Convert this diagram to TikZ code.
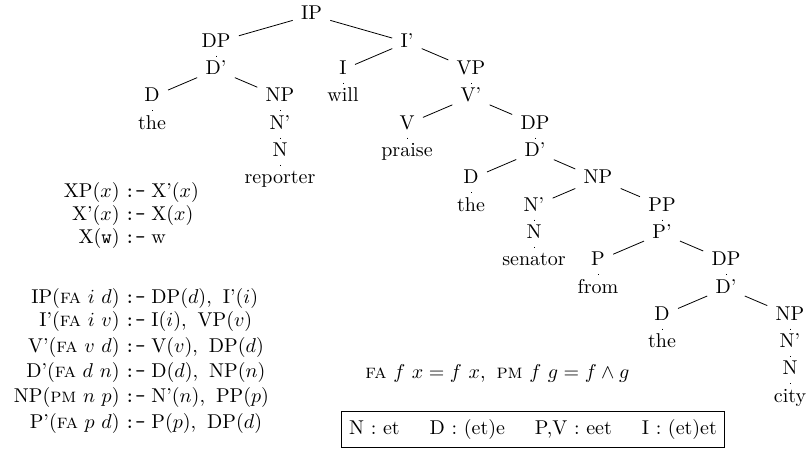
\documentclass[tikz,border=0pt]{standalone}
\begin{document}
\begin{tikzpicture}[x=0.5pt,y=-0.5pt,
  tn/.style={inner xsep=4pt, inner ysep=1.5pt, text height=7.5pt, text depth=2.5pt},
  rl/.style={inner sep=0pt, text height=7.5pt, text depth=2.5pt},
  br/.style={line width=0.4pt}]
\useasboundingbox (0,0) rectangle (807,449);
\newcommand{\csp}{,\hspace{5.5pt}}
% tree nodes
\node[tn] (ip) at (311.5,15) {IP};
\node[tn] (dp1) at (216,42.3) {DP};
\node[tn] (ib) at (407,42.3) {I'};
\node[tn] (db1) at (216,69.6) {D'};
\node[tn] (i) at (343,69.6) {I};
\node[tn] (vp) at (471,69.6) {VP};
\node[tn] (d1) at (152,96.9) {D};
\node[tn] (np1) at (280,96.9) {NP};
\node[tn] (will) at (343,96.9) {will};
\node[tn] (vb) at (471,96.9) {V'};
\node[tn] (the1) at (152,124.2) {the};
\node[tn] (nb1) at (280,124.2) {N'};
\node[tn] (v) at (407,124.2) {V};
\node[tn] (dp2) at (535,124.2) {DP};
\node[tn] (n1) at (280,151.5) {N};
\node[tn] (praise) at (407,151.5) {praise};
\node[tn] (db2) at (535,151.5) {D'};
\node[tn] (reporter) at (280,178.8) {reporter};
\node[tn] (d2) at (471,178.8) {D};
\node[tn] (np2) at (598,178.8) {NP};
\node[tn] (the2) at (471,206.1) {the};
\node[tn] (nb2) at (534,206.1) {N'};
\node[tn] (pp) at (662,206.1) {PP};
\node[tn] (n2) at (534,233.4) {N};
\node[tn] (pb) at (662,233.4) {P'};
\node[tn] (senator) at (534,260.7) {senator};
\node[tn] (p) at (598,260.7) {P};
\node[tn] (dp3) at (726,260.7) {DP};
\node[tn] (from) at (598,288) {from};
\node[tn] (db3) at (726,288) {D'};
\node[tn] (d3) at (662,315.3) {D};
\node[tn] (np3) at (790,315.3) {NP};
\node[tn] (the3) at (662,342.6) {the};
\node[tn] (nb3) at (790,342.6) {N'};
\node[tn] (n3) at (790,369.9) {N};
\node[tn] (city) at (790,397.2) {city};
% branches
\foreach \a/\b in {ip/dp1,ip/ib,dp1/db1,db1/d1,db1/np1,d1/the1,np1/nb1,nb1/n1,n1/reporter,
  ib/i,ib/vp,i/will,vp/vb,vb/v,vb/dp2,v/praise,dp2/db2,db2/d2,db2/np2,d2/the2,
  np2/nb2,np2/pp,nb2/n2,n2/senator,pp/pb,pb/p,pb/dp3,p/from,dp3/db3,db3/d3,db3/np3,
  d3/the3,np3/nb3,nb3/n3,n3/city}
  \draw[br] (\a) -- (\b);
% rules
\foreach \y/\l/\r [count=\k] in {
  192/{XP($x$)}/{X'($x$)},
  215/{X'($x$)}/{X($x$)},
  238/{X(\texttt{w})}/{w},
  298/{IP(\textsc{fa} $i$ $d$)}/{DP($d$)\csp I'($i$)},
  321/{I'(\textsc{fa} $i$ $v$)}/{I($i$)\csp VP($v$)},
  347/{V'(\textsc{fa} $v$ $d$)}/{V($v$)\csp DP($d$)},
  372/{D'(\textsc{fa} $d$ $n$)}/{D($d$)\csp NP($n$)},
  397/{NP(\textsc{pm} $n$ $p$)}/{N'($n$)\csp PP($p$)},
  423/{P'(\textsc{fa} $p$ $d$)}/{P($p$)\csp DP($d$)}}{
  \node[rl, anchor=east] (lhs\k) at (120,\y) {\l};
  \node[rl] (op\k) at (135,\y) {\texttt{:-}};
  \node[rl, anchor=west] (rhs\k) at (151,\y) {\r};
}
% combinators
\node[rl, anchor=west] (comb) at (365,373) {\textsc{fa} $f$ $x=f$ $x$\csp\textsc{pm} $f$ $g=f\wedge g$};
% types box
\node[draw, inner xsep=4pt, inner ysep=4pt, text height=7.5pt, text depth=2.5pt] (types) at (533,429)
  {N : et\hspace{15pt}D : (et)e\hspace{15pt}P,V : eet\hspace{15pt}I : (et)et};
\end{tikzpicture}
\end{document}
